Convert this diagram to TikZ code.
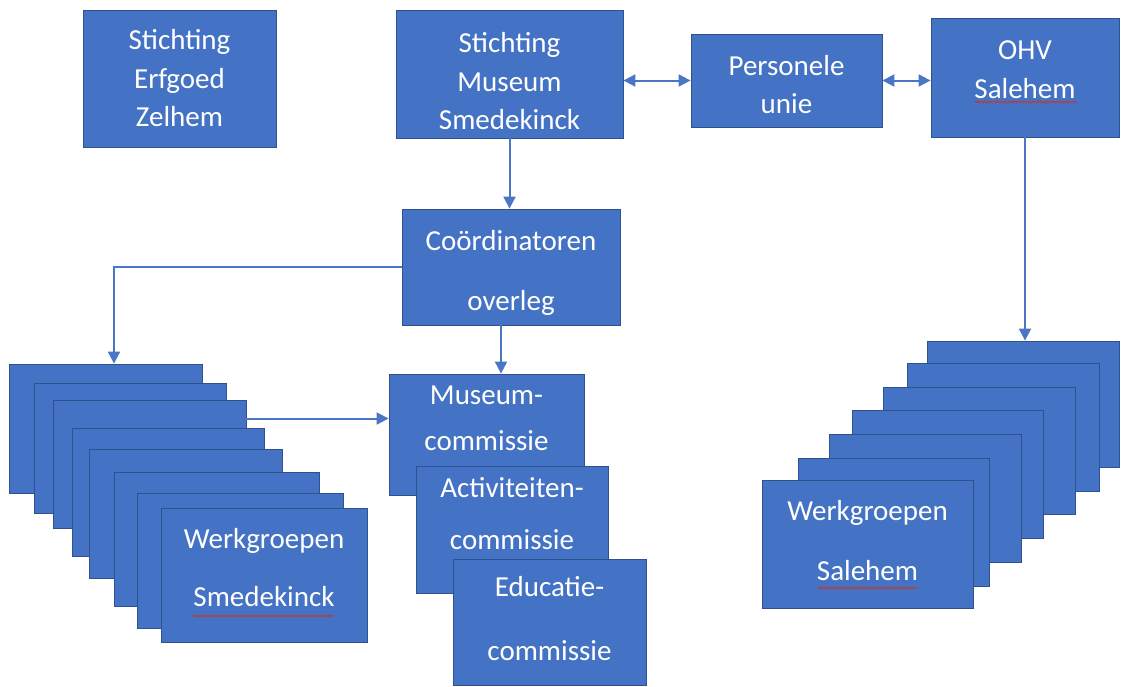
\documentclass[tikz,border=0pt]{standalone}
\usepackage{fontspec}
\setmainfont{Carlito}
\usetikzlibrary{arrows.meta,decorations.pathmorphing}
\definecolor{boxblue}{HTML}{4472C4}
\definecolor{boxedge}{HTML}{2F528F}
\definecolor{lineblue}{HTML}{4A76C6}
\definecolor{spellred}{HTML}{C0392B}

\begin{document}
\begin{tikzpicture}[x=1pt,y=-1pt,>={Triangle[length=12pt,width=12pt]},
                    box/.style={rectangle,draw=boxedge,fill=boxblue,line width=0.8pt,inner sep=0pt},
                    boxtext/.style={text=white,align=center,font=\fontsize{29}{38.5}\selectfont},
                    link/.style={draw=lineblue,line width=2pt},
                    squiggle/.style={draw=spellred,line width=0.8pt,decorate,
                                     decoration={snake,segment length=3pt,amplitude=0.9pt}}]

  \useasboundingbox (0,0) rectangle (1121,686);

  % top row
  \node[box, minimum width=193pt, minimum height=137pt,
        label={[boxtext,yshift=0pt]center:{Stichting\\Erfgoed\\Zelhem}}] (zelhem) at (179.5,78.5) {};
  \node[box, minimum width=227pt, minimum height=128pt,
        label={[boxtext,yshift=-7.5pt]center:{Stichting\\Museum\\Smedekinck}}] (sms) at (509.5,74) {};
  \node[box, minimum width=191pt, minimum height=93pt,
        label={[boxtext,yshift=-4pt]center:{Personele\\unie}}] (unie) at (786.5,80.5) {};
  \node[box, minimum width=188pt, minimum height=119pt,
        label={[boxtext,yshift=8pt]center:{OHV\\Salehem}}] (ohv) at (1025,77.5) {};

  \node[box, minimum width=218pt, minimum height=116pt,
        label={[boxtext,yshift=-6pt]center:{Coördinatoren\\[21.5pt]overleg}}] (overleg) at (511,267) {};

  % commissies
  \node[box, minimum width=195pt, minimum height=121pt,
        label={[boxtext,yshift=16.5pt]center:{Museum-\\[7.5pt]commissie}}] (museum) at (486.5,434.5) {};
  \node[box, minimum width=192pt, minimum height=127pt,
        label={[boxtext,yshift=15.5pt]center:{Activiteiten-\\[13.5pt]commissie}}] (activ) at (512,529.5) {};
  \node[box, minimum width=193pt, minimum height=126pt,
        label={[boxtext,yshift=3pt]center:{Educatie-\\[25.5pt]commissie}}] (educ) at (549.5,622) {};

  % werkgroepen Smedekinck
  \node[box, minimum width=193pt, minimum height=129pt] (ws1) at (105.5,428.5) {};
  \node[box, minimum width=192pt, minimum height=130pt] (ws2) at (130,448) {};
  \node[box, minimum width=193pt, minimum height=128pt] (ws3) at (149.5,464) {};
  \node[box, minimum width=192pt, minimum height=128pt] (ws4) at (168,492) {};
  \node[box, minimum width=193pt, minimum height=129pt] (ws5) at (185.5,513.5) {};
  \node[box, minimum width=205pt, minimum height=134pt] (ws6) at (216.5,539) {};
  \node[box, minimum width=206pt, minimum height=135pt] (ws7) at (240,560.5) {};
  \node[box, minimum width=206pt, minimum height=134pt,
        label={[boxtext,yshift=7.5pt]center:{Werkgroepen\\[19.5pt]Smedekinck}}] (ws8) at (264,575) {};

  % werkgroepen Salehem
  \node[box, minimum width=192pt, minimum height=126pt] (wh1) at (1023,404) {};
  \node[box, minimum width=192pt, minimum height=128pt] (wh2) at (1003,427) {};
  \node[box, minimum width=192pt, minimum height=127pt] (wh3) at (979,450.5) {};
  \node[box, minimum width=191pt, minimum height=128pt] (wh4) at (947.5,474) {};
  \node[box, minimum width=192pt, minimum height=128pt] (wh5) at (925,498) {};
  \node[box, minimum width=191pt, minimum height=128pt] (wh6) at (893.5,522) {};
  \node[box, minimum width=211pt, minimum height=128pt,
        label={[boxtext,yshift=3pt]center:{Werkgroepen\\[21.5pt]Salehem}}] (wh7) at (867.5,544) {};

  \coordinate (od) at ([xshift=-10pt]overleg.south);
  \coordinate (mw) at ([yshift=16pt]museum.west);
  \coordinate (w1) at ([xshift=8.5pt]ws1.north);

  \path[every edge/.style={link}]
	(sms.east |- unie.west) edge[<->] (unie.west)
	(unie.east) edge[<->] (unie.east -| ohv.west)
	(sms.south) edge[->] (sms.south |- overleg.north)
	(od) edge[->] (od |- museum.north)
	(mw -| ws3.east) edge[->] (mw)
	(ohv.south) edge[->] (ohv.south |- wh1.north);
  \draw[link,->] (overleg.west) -| (w1);

  % spelling marks
  \draw[squiggle] (975,102) -- (1077,102);
  \draw[squiggle] (193,616) -- (334,616);
  \draw[squiggle] (818,588) -- (917,588);

\end{tikzpicture}
\end{document}
